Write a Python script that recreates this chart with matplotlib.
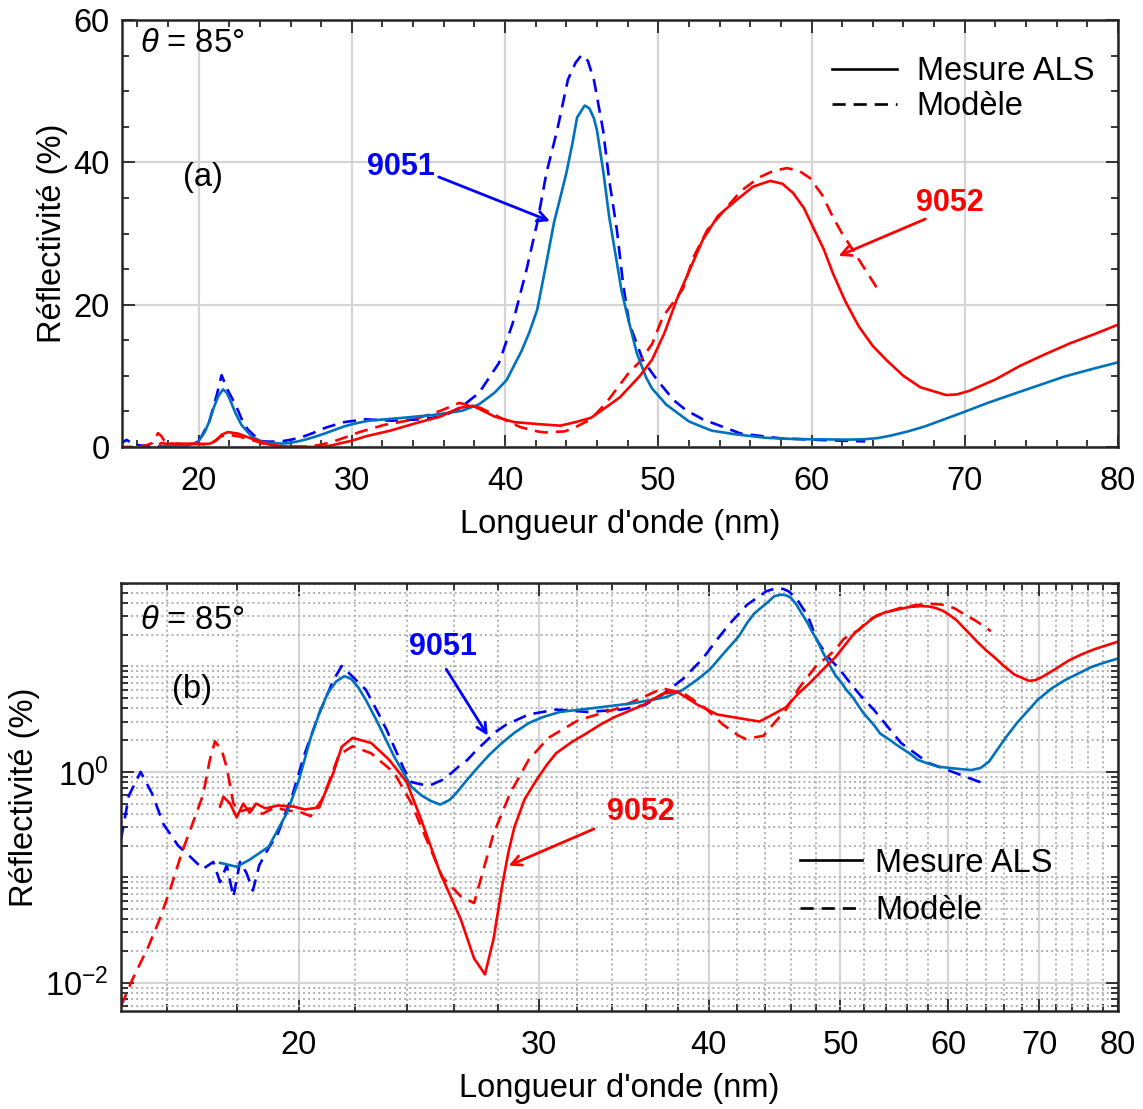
import matplotlib
matplotlib.use("Agg")
import matplotlib.pyplot as plt
import numpy as np
from matplotlib.ticker import FixedLocator, NullFormatter, LogLocator
from matplotlib.lines import Line2D

plt.rcParams['font.family'] = ['Liberation Sans', 'DejaVu Sans']
plt.rcParams['mathtext.fontset'] = 'custom'
plt.rcParams['mathtext.rm'] = 'Liberation Sans'
plt.rcParams['mathtext.it'] = 'Liberation Sans:italic'

# 9051 - mesure ALS (solid)
x_9051_mes = [17.5, 18.0, 18.4, 19.0, 19.6, 20.0, 20.4, 20.7, 21.0, 21.3, 21.6, 21.85,
              22.1, 22.4, 22.8, 23.5, 24.2, 24.6, 25.0, 25.4, 25.8, 26.1, 26.6, 27.1,
              27.6, 28.2, 28.8, 29.5, 30.2, 31.1, 33.3, 35.3, 37.2, 38.3, 39.3, 40.1,
              41.1, 41.6, 42.1, 42.7, 43.2, 43.6, 44.0, 44.4, 44.7, 45.2, 45.5, 45.8,
              46.0, 46.4, 46.8, 47.3, 47.6, 48.0, 48.6, 49.2, 49.6, 50.1, 50.5, 51.0,
              52.0, 52.9, 53.5, 54.4, 55.0, 56.2, 57.0, 58.0, 59.0, 60.5, 62.4, 63.4,
              64.3, 65.2, 66.3, 67.4, 69.8, 71.5, 73.1, 76.5, 78.2, 80.0]
y_9051_mes = [0.137, 0.126, 0.147, 0.195, 0.41, 0.84, 2.1, 3.6, 5.6, 7.2, 8.1, 7.6,
              6.4, 4.8, 3.1, 1.39, 0.72, 0.6, 0.53, 0.49, 0.54, 0.63, 0.85, 1.12,
              1.45, 1.88, 2.35, 2.9, 3.3, 3.7, 4.1, 4.5, 5.1, 6.0, 7.6, 9.4,
              13.6, 16.2, 19.3, 25.9, 31.6, 35.0, 38.5, 42.7, 46.3, 48.0, 47.6, 46.2,
              44.5, 38.9, 32.3, 25.9, 22.0, 18.3, 13.2, 9.8, 8.2, 7.0, 6.0, 5.2,
              3.6, 2.8, 2.3, 2.0, 1.8, 1.5, 1.3, 1.2, 1.12, 1.08, 1.04, 1.09,
              1.25, 1.62, 2.2, 2.9, 4.8, 6.2, 7.4, 9.9, 10.9, 11.9]

# 9051 - modele (dashed)
x_9051_mod = [14.8, 15.0, 15.3, 15.6, 15.9, 16.3, 16.7, 17.0, 17.3, 17.5, 17.7, 17.9,
              18.1, 18.3, 18.5, 18.7, 19.0, 19.3, 19.8, 20.2, 20.7, 21.2, 21.5, 21.9,
              22.4, 22.9, 23.2, 23.9, 24.2, 24.6, 25.0, 25.5, 25.9, 26.2, 26.6, 27.0,
              27.5, 27.9, 28.4, 29.5, 30.9, 32.6, 34.5, 35.9, 37.0, 38.3, 39.6, 40.5,
              41.4, 42.1, 42.7, 43.4, 44.1, 44.6, 45.0, 45.4, 45.8, 46.4, 46.8, 47.3,
              47.7, 48.1, 49.0, 49.9, 51.0, 51.8, 52.9, 55.4, 58.0, 60.7, 63.5]
y_9051_mod = [0.23, 0.6, 1.0, 0.62, 0.32, 0.2, 0.15, 0.12, 0.14, 0.09, 0.13, 0.065,
              0.14, 0.11, 0.075, 0.13, 0.19, 0.26, 0.63, 1.5, 3.6, 7.4, 10.1, 8.0,
              6.0, 3.5, 2.5, 1.05, 0.8, 0.76, 0.75, 0.84, 0.98, 1.12, 1.3, 1.6,
              2.0, 2.4, 2.8, 3.5, 3.9, 3.7, 3.9, 4.3, 5.4, 7.6, 11.8, 17.4,
              24.9, 31.5, 38.5, 44.5, 51.6, 54.0, 55.1, 54.3, 51.6, 44.5, 37.5, 30.5,
              23.0, 17.4, 12.2, 9.5, 6.6, 5.2, 3.9, 1.88, 1.22, 0.98, 0.79]

# 9052 - mesure ALS (solid)
x_9052_mes = [17.5, 17.6, 17.8, 18.0, 18.2, 18.4, 18.6, 18.9, 19.3, 19.8, 20.2, 20.7,
              20.9, 21.2, 21.5, 21.9, 22.6, 23.3, 24.0, 24.6, 25.4, 26.3, 26.9, 27.4,
              27.8, 28.2, 28.5, 28.8, 29.3, 29.9, 30.4, 30.9, 31.7, 32.5, 33.3, 34.1,
              35.8, 37.0, 37.9, 39.3, 40.6, 42.3, 43.6, 44.6, 45.6, 46.6, 47.5, 48.8,
              49.6, 50.4, 51.2, 52.9, 53.9, 55.1, 56.2, 57.3, 58.1, 58.8, 59.5, 60.1,
              60.8, 61.4, 62.2, 63.1, 64.0, 64.9, 66.0, 67.1, 68.8, 69.5, 70.3, 72.0,
              73.6, 75.2, 76.9, 78.5, 80.0]
y_9052_mes = [0.47, 0.58, 0.5, 0.37, 0.5, 0.41, 0.5, 0.45, 0.48, 0.47, 0.44, 0.46,
              0.63, 0.98, 1.73, 2.1, 1.88, 1.3, 0.8, 0.35, 0.11, 0.04, 0.017, 0.012,
              0.026, 0.081, 0.17, 0.30, 0.55, 0.84, 1.15, 1.5, 1.9, 2.3, 2.8, 3.3,
              4.3, 5.5, 5.8, 4.3, 3.5, 3.2, 3.0, 3.5, 4.1, 5.6, 7.0, 10.0,
              12.3, 16.0, 20.7, 29.1, 32.5, 34.7, 36.6, 37.4, 37.0, 35.7, 33.6, 30.9,
              27.8, 24.4, 20.5, 16.9, 14.2, 12.2, 10.0, 8.4, 7.3, 7.4, 7.9, 9.5,
              11.4, 13.0, 14.6, 15.9, 17.2]

# 9052 - modele (dashed)
x_9052_mod = [14.8, 15.1, 15.5, 15.8, 16.1, 16.4, 16.7, 17.0, 17.2, 17.35, 17.55, 17.7,
              17.9, 18.1, 18.4, 18.8, 19.2, 19.6, 20.0, 20.4, 20.8, 21.0, 21.4, 21.9,
              22.6, 23.5, 24.2, 24.6, 25.5, 26.3, 26.9, 27.2, 27.8, 28.6, 29.5, 30.5,
              32.1, 34.1, 35.8, 37.0, 38.4, 39.8, 41.0, 42.1, 42.6, 43.9, 44.6, 45.6,
              46.6, 48.1, 48.8, 49.6, 50.3, 51.6, 52.3, 53.2, 54.2, 55.4, 56.6, 57.5,
              58.4, 59.2, 59.9, 60.7, 61.4, 62.0, 62.7, 63.6, 64.5]
y_9052_mod = [0.006, 0.011, 0.022, 0.04, 0.08, 0.17, 0.32, 0.6, 1.3, 1.95, 1.6, 1.1,
              0.5, 0.42, 0.45, 0.4, 0.46, 0.43, 0.42, 0.38, 0.55, 0.75, 1.45, 1.75,
              1.5, 0.98, 0.5, 0.30, 0.1, 0.066, 0.057, 0.095, 0.26, 0.63, 1.3, 2.1,
              3.1, 3.9, 5.1, 6.2, 5.5, 4.0, 2.8, 2.2, 2.05, 2.2, 2.8, 3.9,
              6.2, 10.5, 12.0, 14.5, 18.3, 22.2, 26.7, 30.5, 33.0, 36.0, 37.9, 38.8,
              39.2, 38.8, 37.8, 35.4, 32.3, 30.0, 27.7, 24.6, 21.6]

xticks_lin = [20, 30, 40, 50, 60, 70, 80]
yticks_lin = [0, 20, 40, 60]
xticks_log = [20, 30, 40, 50, 60, 70, 80]
xminor_log = [16, 18, 22, 24, 26, 28, 32, 34, 36, 38, 42, 44, 46, 48,
              52, 54, 56, 58, 62, 64, 66, 68, 72, 74, 76, 78]

C_MES = '#0072BD'
C_MOD = '#0000FF'
C_RED = '#FF0000'
FS = 23.5
LW = 1.9
DASH = (0, (5, 3))
SPINE = '#262626'

fig = plt.figure(figsize=(11.43, 11.09), dpi=100)
ax1 = fig.add_axes([0.1067, 0.5969, 0.8714, 0.385])
ax2 = fig.add_axes([0.1059, 0.0884, 0.8723, 0.386])


def draw(ax):
    ax.plot(x_9051_mod, y_9051_mod, color=C_MOD, lw=LW, linestyle=DASH)
    ax.plot(x_9052_mod, y_9052_mod, color=C_RED, lw=LW, linestyle=DASH)
    ax.plot(x_9051_mes, y_9051_mes, color=C_MES, lw=LW)
    ax.plot(x_9052_mes, y_9052_mes, color=C_RED, lw=LW)
    for s in ax.spines.values():
        s.set_linewidth(1.8)
        s.set_color(SPINE)
    ax.tick_params(which='both', direction='in', top=True, right=True,
                   labelsize=FS, color=SPINE, width=1.3)
    ax.tick_params(which='major', length=9)
    ax.tick_params(axis='x', which='major', pad=14)
    ax.tick_params(axis='y', which='major', pad=9)
    ax.tick_params(which='minor', length=5)
    ax.set_axisbelow(True)
    ax.set_xlabel("Longueur d'onde (nm)", fontsize=FS, labelpad=8)
    ax.set_ylabel("Réflectivité (%)", fontsize=FS)


arrow_style = '->,head_length=0.7,head_width=0.35'

# ---- (a) linear ----
draw(ax1)
ax1.set_xlim(15, 80)
ax1.set_ylim(0, 60)
ax1.set_xticks(xticks_lin)
ax1.set_yticks(yticks_lin)
ax1.xaxis.set_minor_locator(FixedLocator(np.arange(16, 80, 2)))
ax1.yaxis.set_minor_locator(FixedLocator(np.arange(5, 60, 5)))
ax1.grid(which='major', color='#d4d4d4', lw=1.6)

ax1.text(0.018, 0.945, r'$\theta$ = 85°', transform=ax1.transAxes, fontsize=FS,
         va='center', ha='left')
ax1.text(20.3, 37.9, '(a)', fontsize=FS, ha='center', va='center')
ax1.text(33.2, 39.3, '9051', color=C_MOD, fontsize=22, fontweight='bold',
         ha='center', va='center')
ax1.annotate('', xy=(43.1, 31.6), xytext=(35.5, 38.1),
             arrowprops=dict(arrowstyle=arrow_style, color=C_MOD, lw=2))
ax1.text(69.0, 34.3, '9052', color=C_RED, fontsize=22, fontweight='bold',
         ha='center', va='center')
ax1.annotate('', xy=(61.6, 26.7), xytext=(67.6, 32.2),
             arrowprops=dict(arrowstyle=arrow_style, color=C_RED, lw=2))
handles = [Line2D([], [], color='black', lw=LW),
           Line2D([], [], color='black', lw=LW, linestyle=DASH)]
ax1.legend(handles, ['Mesure ALS', 'Modèle'], loc='upper right',
           bbox_to_anchor=(0.976, 0.915), frameon=False, fontsize=FS,
           handlelength=2.0, handletextpad=0.6, labelspacing=0.12,
           borderaxespad=0.0, borderpad=0.0)

# ---- (b) log ----
draw(ax2)
ax2.set_xscale('log')
ax2.set_yscale('log')
ax2.set_xlim(14.8, 80)
ax2.set_ylim(0.0054, 62)
ax2.xaxis.set_major_locator(FixedLocator(xticks_log))
ax2.xaxis.set_minor_locator(FixedLocator(xminor_log))
ax2.set_xticklabels([str(v) for v in xticks_log])
ax2.xaxis.set_minor_formatter(NullFormatter())
ax2.yaxis.set_major_locator(FixedLocator([1e-2, 1e0]))
ax2.set_yticklabels([r'$10^{-2}$', r'$10^{0}$'])
ax2.yaxis.set_minor_locator(LogLocator(base=10, subs=np.arange(1, 10), numticks=20))
ax2.yaxis.set_minor_formatter(NullFormatter())
ax2.grid(which='major', color='#d4d4d4', lw=1.6)
ax2.grid(which='minor', color='#b0b0b0', lw=1.4, linestyle=(0, (1, 1.6)))

ax2.text(0.019, 0.913, r'$\theta$ = 85°', transform=ax2.transAxes, fontsize=FS,
         va='center', ha='left')
ax2.text(16.7, 6.0, '(b)', fontsize=FS, ha='center', va='center')
ax2.text(25.5, 15.3, '9051', color=C_MOD, fontsize=22, fontweight='bold',
         ha='center', va='center')
ax2.annotate('', xy=(27.6, 2.1), xytext=(25.6, 9.9),
             arrowprops=dict(arrowstyle=arrow_style, color=C_MOD, lw=2))
ax2.text(35.7, 0.418, '9052', color=C_RED, fontsize=22, fontweight='bold',
         ha='center', va='center')
ax2.annotate('', xy=(28.4, 0.126), xytext=(33.1, 0.295),
             arrowprops=dict(arrowstyle=arrow_style, color=C_RED, lw=2))
ax2.legend(handles, ['Mesure ALS', 'Modèle'], loc='center left',
           bbox_to_anchor=(0.681, 0.29), frameon=False, fontsize=FS,
           handlelength=1.9, handletextpad=0.4, labelspacing=0.5,
           borderaxespad=0.0, borderpad=0.0)

fig.savefig('out.png', dpi=100)
